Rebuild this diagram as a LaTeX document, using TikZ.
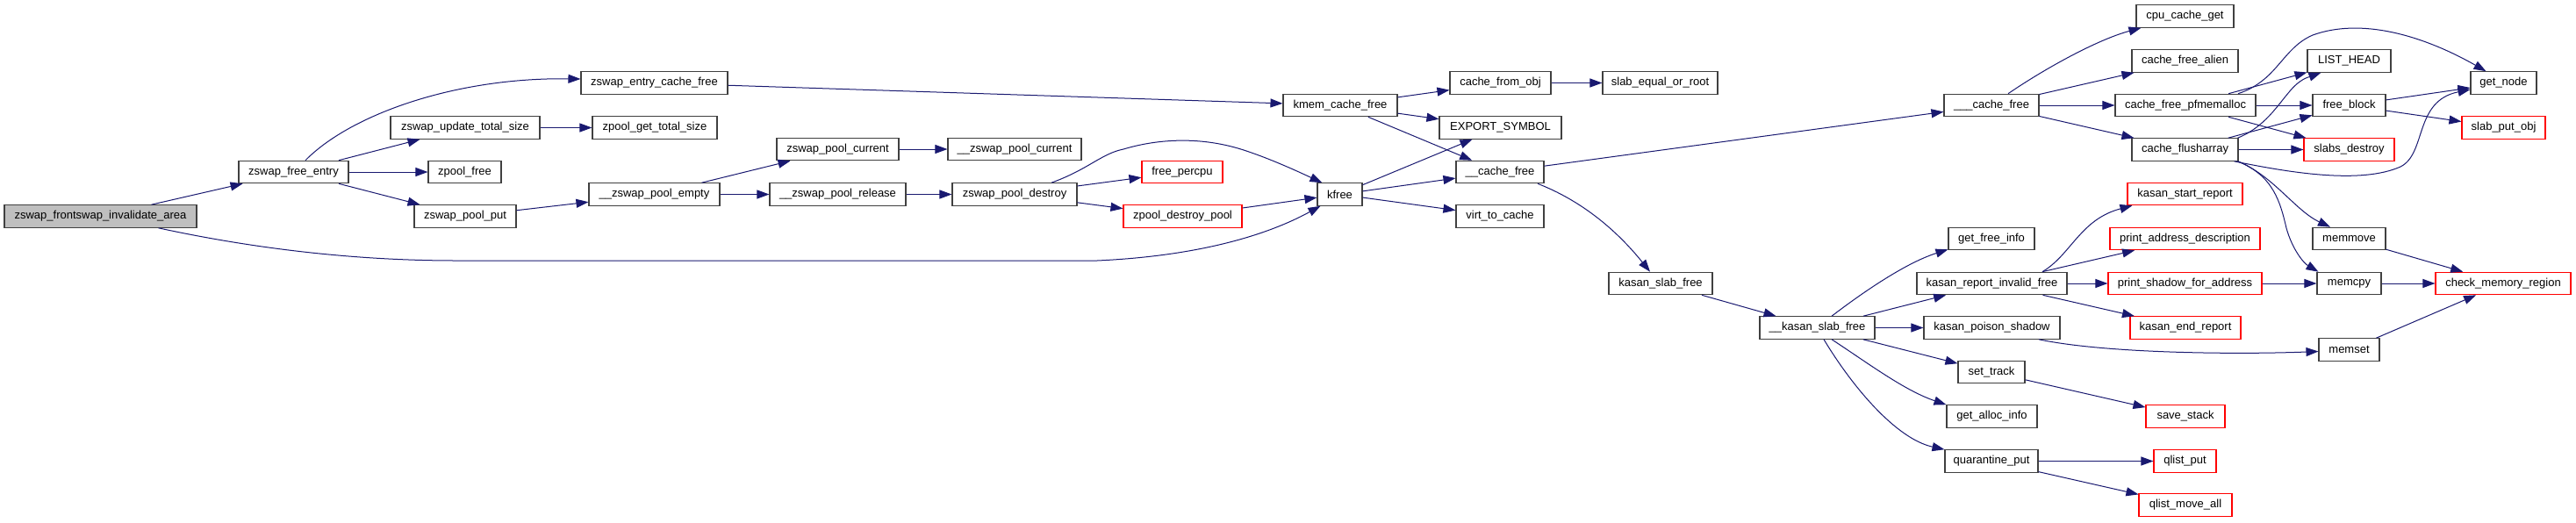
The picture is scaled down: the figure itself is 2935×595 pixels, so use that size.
\documentclass[tikz,border=0pt]{standalone}
\usepackage{fontspec}
\setmainfont{Liberation Sans}
\usetikzlibrary{arrows.meta}
\definecolor{edgecol}{HTML}{191970}
\definecolor{grey25}{HTML}{404040}
\definecolor{mainfill}{HTML}{BFBFBF}
\definecolor{redb}{HTML}{FF0000}
\tikzset{
  fn/.style={rectangle, draw=grey25, line width=1.1pt, minimum height=25.5pt, inner sep=0pt, font=\fontsize{13pt}{15pt}\selectfont, text=black, fill=white},
  fnr/.style={fn, draw=redb},
  edge/.style={draw=edgecol, line width=1pt, -{Triangle[length=14pt,width=10pt]}}
}
\begin{document}
\begin{tikzpicture}[x=1pt,y=-1pt]
\useasboundingbox (0,0) rectangle (2935,595);
% nodes
\node[fn, minimum width=219pt, fill=mainfill] (main) at (114.5,246.5) {zswap\_frontswap\_invalidate\_area};
\node[fn, minimum width=125pt] (zfe) at (334.5,196) {zswap\_free\_entry};
\node[fn, minimum width=167pt] (zecf) at (745.5,94.5) {zswap\_entry\_cache\_free};
\node[fn, minimum width=170pt] (zuts) at (530,145.5) {zswap\_update\_total\_size};
\node[fn, minimum width=142pt] (zgts) at (746,145.5) {zpool\_get\_total\_size};
\node[fn, minimum width=83pt] (zpf) at (529.5,196) {zpool\_free};
\node[fn, minimum width=116pt] (zpp) at (530,246.5) {zswap\_pool\_put};
\node[fn, minimum width=149pt] (zpe) at (745.5,221.5) {\_\_zswap\_pool\_empty};
\node[fn, minimum width=139pt] (zpc) at (954.5,170) {zswap\_pool\_current};
\node[fn, minimum width=155pt] (zpr) at (954.5,221.5) {\_\_zswap\_pool\_release};
\node[fn, minimum width=152pt] (uzpc) at (1156,170) {\_\_zswap\_pool\_current};
\node[fn, minimum width=142pt] (zpd) at (1156,221.5) {zswap\_pool\_destroy};
\node[fnr, minimum width=92pt] (fpc) at (1347,196) {free\_percpu};
\node[fnr, minimum width=135pt] (zdp) at (1347.5,246.5) {zpool\_destroy\_pool};
\node[fn, minimum width=130pt] (kcf) at (1527,120) {kmem\_cache\_free};
\node[fn, minimum width=115pt] (cfo) at (1709.5,94.5) {cache\_from\_obj};
\node[fn, minimum width=131pt] (seor) at (1891.5,94.5) {slab\_equal\_or\_root};
\node[fn, minimum width=139pt] (exs) at (1709.5,145.5) {EXPORT\_SYMBOL};
\node[fn, minimum width=100pt] (ucf) at (1709,196) {\_\_cache\_free};
\node[fn, minimum width=51pt] (kfree) at (1526.5,221.5) {kfree};
\node[fn, minimum width=100pt] (vtc) at (1709,246.5) {virt\_to\_cache};
\node[fn, minimum width=118pt] (ksf) at (1892,323) {kasan\_slab\_free};
\node[fn, minimum width=108pt] (uucf) at (2269,120) {\_\_\_cache\_free};
\node[fn, minimum width=98pt] (gfi) at (2269,272) {get\_free\_info};
\node[fn, minimum width=111pt] (ccg) at (2489.5,18.5) {cpu\_cache\_get};
\node[fn, minimum width=121pt] (cfa) at (2489.5,69.5) {cache\_free\_alien};
\node[fn, minimum width=160pt] (cfp) at (2490,120) {cache\_free\_pfmemalloc};
\node[fn, minimum width=121pt] (cfl) at (2489.5,170.5) {cache\_flusharray};
\node[fnr, minimum width=131pt] (ksr) at (2489.5,221) {kasan\_start\_report};
\node[fnr, minimum width=171pt] (pad) at (2489.5,272) {print\_address\_description};
\node[fn, minimum width=131pt] (uksf) at (2070.5,373.5) {\_\_kasan\_slab\_free};
\node[fn, minimum width=171pt] (krif) at (2269.5,323) {kasan\_report\_invalid\_free};
\node[fn, minimum width=155pt] (kps) at (2269.5,373.5) {kasan\_poison\_shadow};
\node[fn, minimum width=76pt] (st) at (2269,424) {set\_track};
\node[fn, minimum width=103pt] (gai) at (2269.5,474.5) {get\_alloc\_info};
\node[fn, minimum width=106pt] (qp) at (2269,525.5) {quarantine\_put};
\node[fnr, minimum width=175pt] (psfa) at (2489.5,323) {print\_shadow\_for\_address};
\node[fnr, minimum width=126pt] (ker) at (2490,373.5) {kasan\_end\_report};
\node[fnr, minimum width=90pt] (ss) at (2490,474.5) {save\_stack};
\node[fnr, minimum width=71pt] (qlp) at (2489.5,525.5) {qlist\_put};
\node[fnr, minimum width=106pt] (qma) at (2490,575.5) {qlist\_move\_all};
\node[fn, minimum width=95pt] (lh) at (2676.5,69.5) {LIST\_HEAD};
\node[fn, minimum width=83pt] (fb) at (2676.5,120) {free\_block};
\node[fnr, minimum width=103pt] (sd) at (2676.5,170.5) {slabs\_destroy};
\node[fn, minimum width=75pt] (gn) at (2852.5,94.5) {get\_node};
\node[fnr, minimum width=95pt] (spo) at (2852.5,145.5) {slab\_put\_obj};
\node[fn, minimum width=83pt] (mm) at (2676.5,272) {memmove};
\node[fn, minimum width=73pt] (mc) at (2676.5,323) {memcpy};
\node[fnr, minimum width=154pt] (cmr) at (2852,323) {check\_memory\_region};
\node[fn, minimum width=69pt] (ms) at (2676.5,398.5) {memset};
% straight edges
\draw[edge] (main) -- (zfe);
\draw[edge] (zfe) -- (zuts);
\draw[edge] (zfe) -- (zpf);
\draw[edge] (zfe) -- (zpp);
\draw[edge] (zecf) -- (kcf);
\draw[edge] (zuts) -- (zgts);
\draw[edge] (zpp) -- (zpe);
\draw[edge] (zpe) -- (zpc);
\draw[edge] (zpe) -- (zpr);
\draw[edge] (zpc) -- (uzpc);
\draw[edge] (zpr) -- (zpd);
\draw[edge] (zpd) -- (fpc);
\draw[edge] (zpd) -- (zdp);
\draw[edge] (zdp) -- (kfree);
\draw[edge] (kcf) -- (cfo);
\draw[edge] (kcf) -- (exs);
\draw[edge] (kcf) -- (ucf);
\draw[edge] (kfree) -- (exs);
\draw[edge] (kfree) -- (ucf);
\draw[edge] (kfree) -- (vtc);
\draw[edge] (cfo) -- (seor);
\draw[edge] (ucf) -- (uucf);
\draw[edge] (ksf) -- (uksf);
\draw[edge] (uucf) -- (cfa);
\draw[edge] (uucf) -- (cfp);
\draw[edge] (uucf) -- (cfl);
\draw[edge] (cfp) -- (lh);
\draw[edge] (cfp) -- (fb);
\draw[edge] (cfp) -- (sd);
\draw[edge] (cfl) -- (fb);
\draw[edge] (cfl) -- (sd);
\draw[edge] (fb) -- (gn);
\draw[edge] (fb) -- (spo);
\draw[edge] (mm) -- (cmr);
\draw[edge] (mc) -- (cmr);
\draw[edge] (ms) -- (cmr);
\draw[edge] (uksf) -- (krif);
\draw[edge] (uksf) -- (kps);
\draw[edge] (uksf) -- (st);
\draw[edge] (krif) -- (pad);
\draw[edge] (krif) -- (psfa);
\draw[edge] (krif) -- (ker);
\draw[edge] (st) -- (ss);
\draw[edge] (qp) -- (qlp);
\draw[edge] (qp) -- (qma);
\draw[edge] (psfa) -- (mc);
% curved edges
\draw[edge] ([xshift=66pt]main.south) .. controls (260,277) and (380,297) .. (520,297) -- (1250,297) .. controls (1360,292) and (1440,270) .. ([xshift=4pt]kfree.south west);
\draw[edge] ([xshift=13.5pt]zfe.north) .. controls (400,130) and (520,88) .. ([yshift=4.5pt]zecf.west);
\draw[edge] ([xshift=42pt]zpd.north) .. controls (1240,193) and (1255,175) .. (1280,170) .. controls (1320,158) and (1370,155) .. (1420,172) .. controls (1450,182) and (1480,196) .. ([xshift=6pt]kfree.north west);
\draw[edge] ([xshift=43pt]ucf.south) .. controls (1800,228) and (1840,260) .. ([xshift=-12pt]ksf.north);
\draw[edge] ([xshift=19pt]uucf.north) .. controls (2330,78) and (2390,45) .. ([xshift=6pt]ccg.south west);
\draw[edge] ([xshift=60pt]cfp.north) .. controls (2595,92) and (2600,55) .. (2635,40) .. controls (2690,20) and (2760,40) .. ([xshift=-20pt]gn.north);
\draw[edge] ([xshift=60pt]cfl.north) .. controls (2580,145) and (2595,120) .. (2608,105) .. controls (2620,90) and (2630,88) .. ([xshift=16pt]lh.south west);
\draw[edge] ([xshift=56pt]cfl.south) .. controls (2610,197) and (2690,210) .. (2735,190) .. controls (2765,175) and (2750,115) .. ([yshift=-7.5pt]gn.west);
\draw[edge] ([xshift=60pt]cfl.south) .. controls (2590,200) and (2615,240) .. ([xshift=-21.5pt]mm.north);
\draw[edge] ([xshift=60pt]cfl.south) .. controls (2590,200) and (2598,230) .. (2605,260) .. controls (2612,285) and (2625,300) .. ([xshift=2pt]mc.north west);
\draw[edge] ([xshift=16.5pt]uksf.north) .. controls (2120,335) and (2170,300) .. ([yshift=1pt]gfi.south west);
\draw[edge] ([xshift=16.5pt]uksf.south) .. controls (2130,415) and (2170,445) .. (gai.north west);
\draw[edge] ([xshift=7.5pt]uksf.south) .. controls (2110,440) and (2160,500) .. (qp.north west);
\draw[edge] ([xshift=57.5pt]krif.north) .. controls (2360,290) and (2370,250) .. ([xshift=6pt]ksr.south west);
\draw[edge] ([xshift=53.5pt]kps.south) .. controls (2400,403) and (2550,404) .. ([yshift=-2pt]ms.west);
\end{tikzpicture}
\end{document}
